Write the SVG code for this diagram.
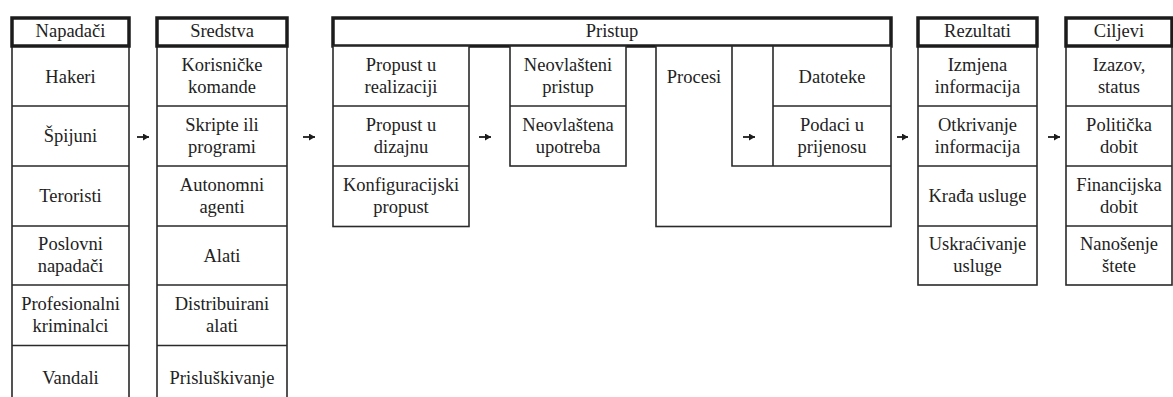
<svg xmlns="http://www.w3.org/2000/svg" width="1173" height="397" viewBox="0 0 1173 397">
<style>
  .hd { fill: #fff; stroke: #1c1c1c; stroke-width: 3.5; }
  .ln { fill: none; stroke: #2a2a2a; stroke-width: 1.6; }
  .bx { fill: #fff; stroke: #2a2a2a; stroke-width: 1.6; }
  .t { font-family: "Liberation Serif", "Times New Roman", serif; font-size: 18.5px; fill: #222; text-anchor: middle; }
  .ar { stroke: #1c1c1c; stroke-width: 1.8; fill: none; }
</style>
<defs>
  <marker id="ah" markerUnits="userSpaceOnUse" markerWidth="6" markerHeight="7" refX="6" refY="3.5" orient="auto">
    <path d="M0,0 L6,3.5 L0,7 z" fill="#1c1c1c"/>
  </marker>
</defs>
<rect width="1173" height="397" fill="#fff"/>

<g id="napadaci">
  <path class="ln" d="M12,46 V400 M129,46 V400 M12,106 H129 M12,166 H129 M12,226 H129 M12,285 H129 M12,345.5 H129"/>
  <rect class="hd" x="12" y="18" width="117" height="28"/>
  <text class="t" x="70.5" y="37">Napadači</text>
  <text class="t" x="70.5" y="82.5">Hakeri</text>
  <text class="t" x="70.5" y="142">Špijuni</text>
  <text class="t" x="70.5" y="202">Teroristi</text>
  <text class="t" x="70.5" y="250">Poslovni</text>
  <text class="t" x="70.5" y="272.3">napadači</text>
  <text class="t" x="70.5" y="310">Profesionalni</text>
  <text class="t" x="70.5" y="332.3">kriminalci</text>
  <text class="t" x="70.5" y="383.5">Vandali</text>
</g>

<g id="sredstva">
  <path class="ln" d="M157,46 V400 M287,46 V400 M157,106 H287 M157,166 H287 M157,226 H287 M157,285 H287 M157,345.5 H287"/>
  <rect class="hd" x="157" y="18" width="130" height="28"/>
  <text class="t" x="222" y="37">Sredstva</text>
  <text class="t" x="222" y="71">Korisničke</text>
  <text class="t" x="222" y="93.3">komande</text>
  <text class="t" x="222" y="130.5">Skripte ili</text>
  <text class="t" x="222" y="152.8">programi</text>
  <text class="t" x="222" y="190.5">Autonomni</text>
  <text class="t" x="222" y="212.8">agenti</text>
  <text class="t" x="222" y="261.5">Alati</text>
  <text class="t" x="222" y="310">Distribuirani</text>
  <text class="t" x="222" y="332.3">alati</text>
  <text class="t" x="222" y="383.5">Prisluškivanje</text>
</g>

<g id="pristup">
  <rect class="hd" x="333" y="18" width="558" height="28"/>
  <text class="t" x="612" y="37">Pristup</text>
</g>

<g id="propusti">
  <rect class="bx" x="333" y="46" width="136" height="180.5"/>
  <path class="ln" d="M333,106 H469 M333,166 H469"/>
  <text class="t" x="401" y="71">Propust u</text>
  <text class="t" x="401" y="93.3">realizaciji</text>
  <text class="t" x="401" y="130.5">Propust u</text>
  <text class="t" x="401" y="152.8">dizajnu</text>
  <text class="t" x="401" y="190.5">Konfiguracijski</text>
  <text class="t" x="401" y="212.8">propust</text>
</g>

<g id="neovlasteno">
  <rect class="bx" x="510" y="46" width="116" height="120"/>
  <path class="ln" d="M510,106 H626"/>
  <text class="t" x="568" y="71">Neovlašteni</text>
  <text class="t" x="568" y="93.3">pristup</text>
  <text class="t" x="568" y="130.5">Neovlaštena</text>
  <text class="t" x="568" y="152.8">upotreba</text>
</g>

<g id="procesi">
  <rect class="bx" x="656" y="46" width="235" height="180.5"/>
  <path class="ln" d="M732,46 V166 H891 M773,46 V166 M773,106 H891"/>
  <text class="t" x="694" y="82.5">Procesi</text>
</g>

<g id="datoteke">
  <text class="t" x="832" y="82.5">Datoteke</text>
</g>

<g id="podaci">
  <text class="t" x="832" y="130.5">Podaci u</text>
  <text class="t" x="832" y="152.8">prijenosu</text>
</g>

<g id="rezultati">
  <rect class="bx" x="918" y="46" width="119" height="239"/>
  <path class="ln" d="M918,106 H1037 M918,166 H1037 M918,226 H1037"/>
  <rect class="hd" x="918" y="18" width="119" height="28"/>
  <text class="t" x="977.5" y="37">Rezultati</text>
  <text class="t" x="977.5" y="71">Izmjena</text>
  <text class="t" x="977.5" y="93.3">informacija</text>
  <text class="t" x="977.5" y="130.5">Otkrivanje</text>
  <text class="t" x="977.5" y="152.8">informacija</text>
  <text class="t" x="977.5" y="202">Krađa usluge</text>
  <text class="t" x="977.5" y="250">Uskraćivanje</text>
  <text class="t" x="977.5" y="272.3">usluge</text>
</g>

<g id="ciljevi">
  <rect class="bx" x="1066" y="46" width="106" height="239"/>
  <path class="ln" d="M1066,106 H1172 M1066,166 H1172 M1066,226 H1172"/>
  <rect class="hd" x="1066" y="18" width="106" height="28"/>
  <text class="t" x="1119" y="37">Ciljevi</text>
  <text class="t" x="1119" y="71">Izazov,</text>
  <text class="t" x="1119" y="93.3">status</text>
  <text class="t" x="1119" y="130.5">Politička</text>
  <text class="t" x="1119" y="152.8">dobit</text>
  <text class="t" x="1119" y="190.5">Financijska</text>
  <text class="t" x="1119" y="212.8">dobit</text>
  <text class="t" x="1119" y="250">Nanošenje</text>
  <text class="t" x="1119" y="272.3">štete</text>
</g>

<g id="connectors">
  <line class="ar" x1="137" y1="137" x2="149" y2="137" marker-end="url(#ah)"/>
  <line class="ar" x1="303" y1="137" x2="315" y2="137" marker-end="url(#ah)"/>
  <line class="ar" x1="479" y1="137" x2="491" y2="137" marker-end="url(#ah)"/>
  <line class="ar" x1="743" y1="137" x2="755" y2="137" marker-end="url(#ah)"/>
  <line class="ar" x1="897" y1="137" x2="908" y2="137" marker-end="url(#ah)"/>
  <line class="ar" x1="1048" y1="137" x2="1060" y2="137" marker-end="url(#ah)"/>
</g>
</svg>
